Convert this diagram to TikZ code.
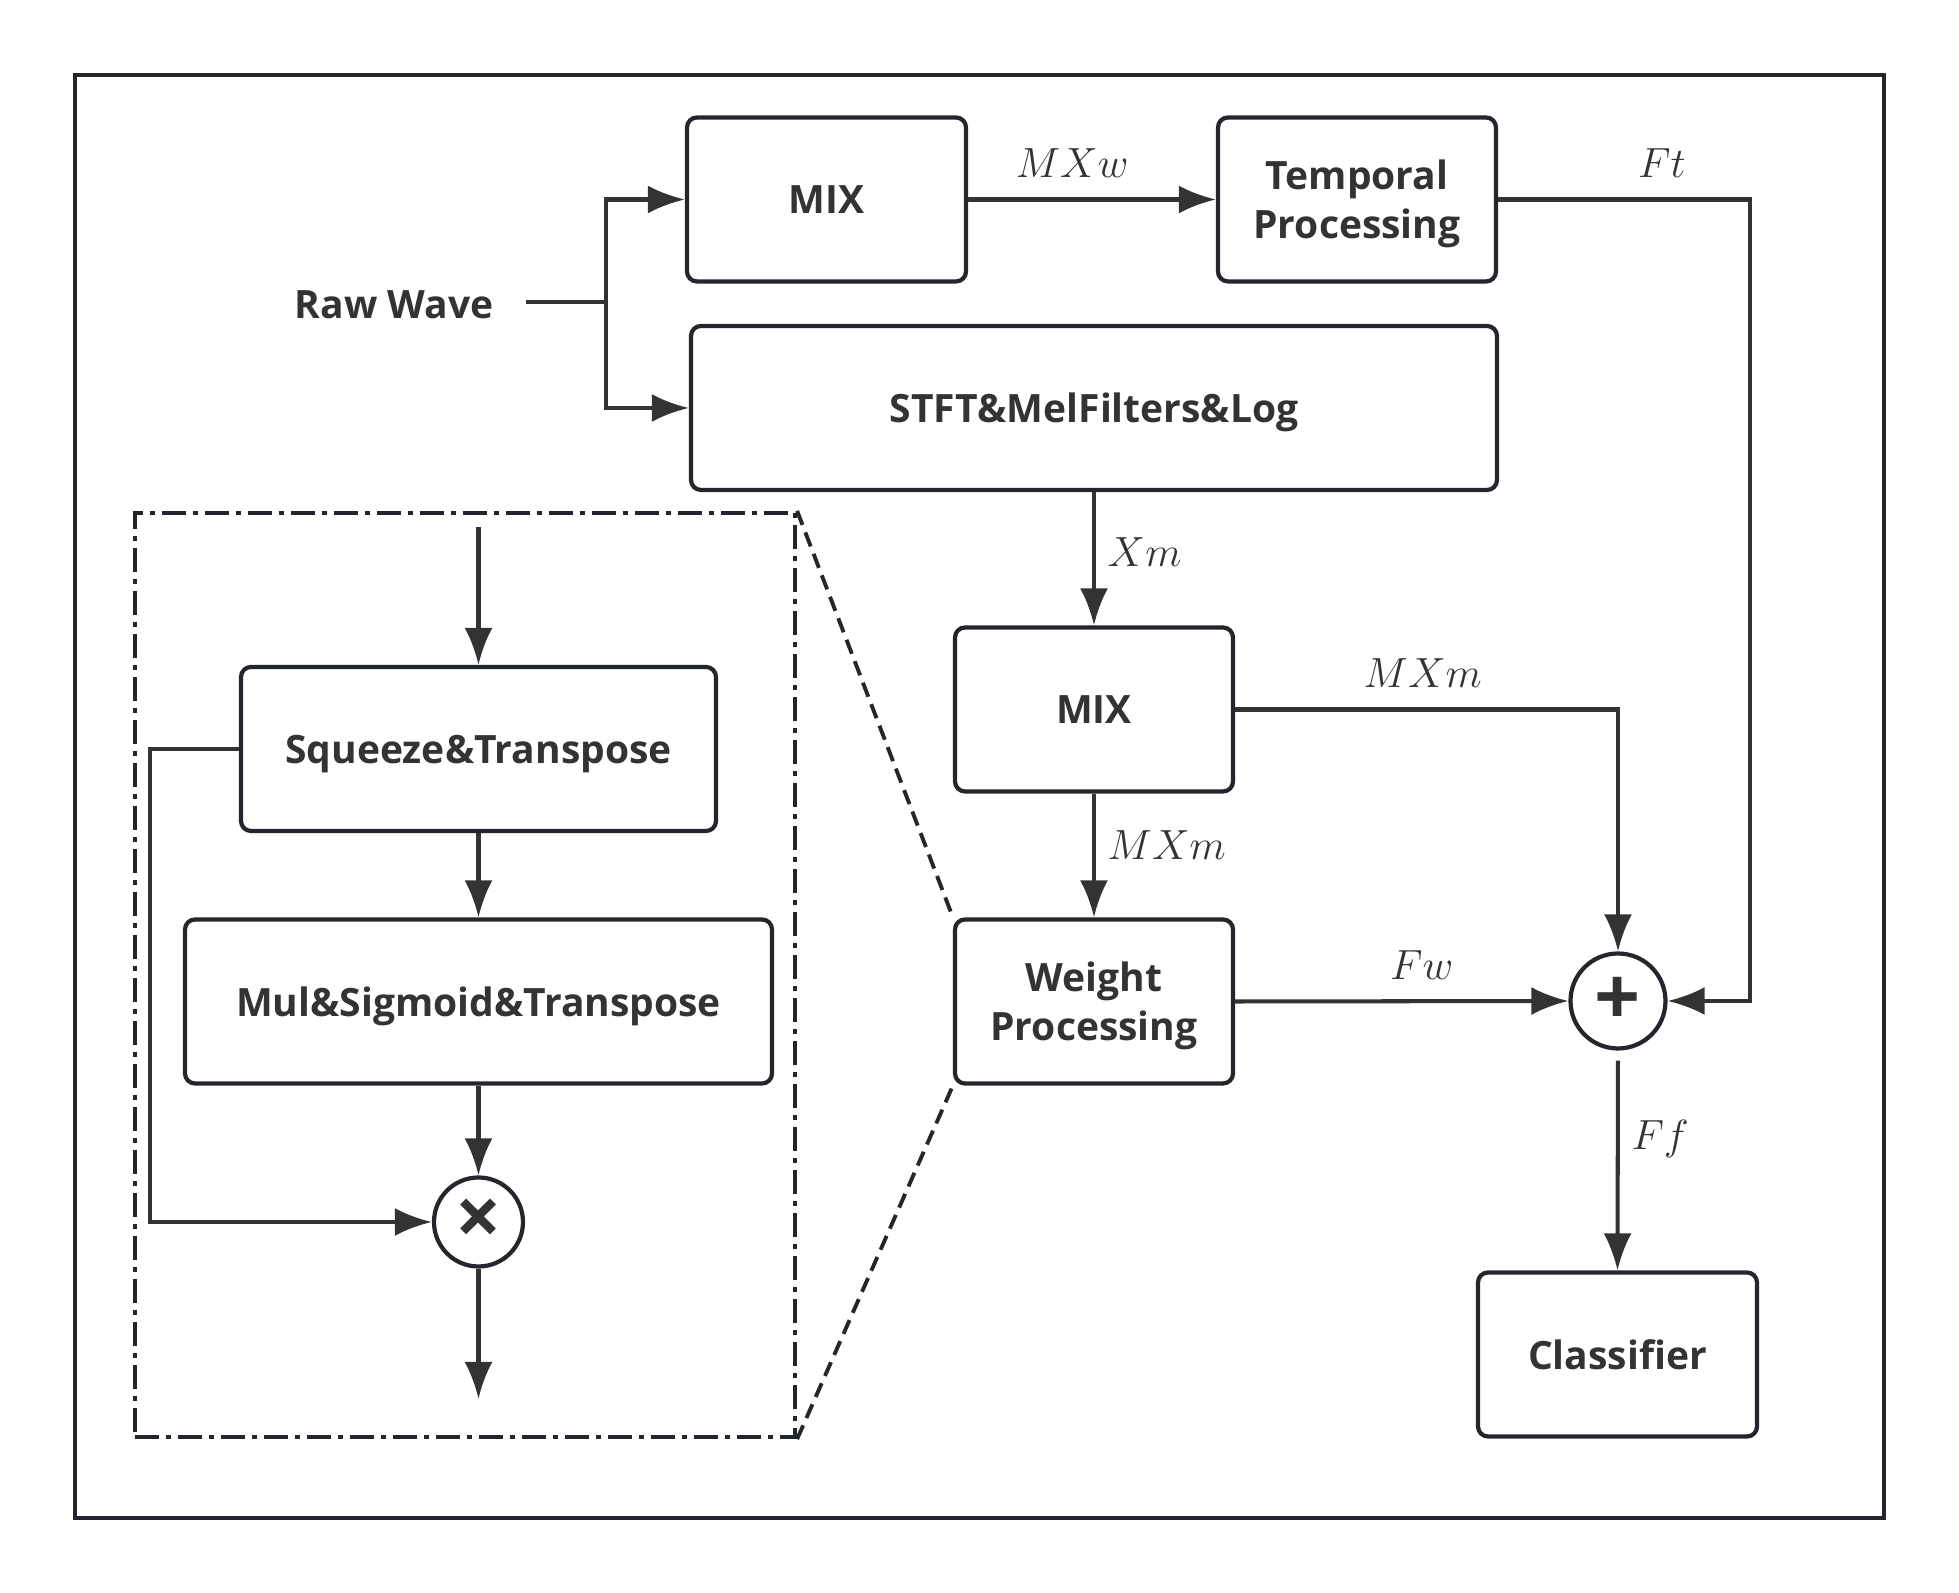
\documentclass[tikz,border=0pt]{standalone}
\usepackage{fontspec}
\setmainfont{Open Sans}
\usetikzlibrary{arrows.meta}
\definecolor{ink}{HTML}{333333}
\definecolor{edge}{HTML}{23272D}
\begin{document}
\begin{tikzpicture}[
	box/.style={draw=edge, line width=1.2pt, rounded corners=1mm, minimum width=#1, minimum height=1.64cm, inner sep=0pt, text depth=0pt, align=center, text=ink, font=\fontsize{11.1}{13.9}\selectfont\bfseries},
	sum/.style={draw=edge, line width=1.2pt, circle, minimum size=#1, inner sep=0pt, text=ink, font=\fontsize{23}{23}\selectfont\bfseries},
	txt/.style={text=ink, font=\fontsize{11.1}{13.9}\selectfont\bfseries},
	lbl/.style={text=ink, font=\fontsize{13}{13}\selectfont},
	line/.style={draw=ink, line width=1.15pt},
	arr/.style={line, -{Latex[length=3.7mm,width=2.8mm]}},
	zoomframe/.style={draw=edge, line width=1.2pt, inner sep=0pt, dash pattern=on 2.4mm off 0.7mm on 0.5mm off 0.7mm},
	link/.style={draw=edge, line width=1.1pt, dash pattern=on 1.5mm off 0.8mm}
	]
	\useasboundingbox (0,0) rectangle (19.59,15.93);
	\draw[edge, line width=1.1pt] (0.75,0.75) rectangle (18.84,15.18);
	\node[txt] (raw) at (3.94,12.88) {Raw Wave};
	\node[box=2.79cm] (mixw) at (8.265,13.935) {MIX};
	\node[box=2.78cm] (temporal) at (13.57,13.935) {Temporal\\Processing};
	\node[box=8.06cm] (stft) at (10.94,11.85) {STFT\&MelFilters\&Log};
	\node[box=2.78cm] (mixm) at (10.94,8.835) {MIX};
	\node[box=2.78cm] (weight) at (10.94,5.915) {Weight\\Processing};
	\node[sum=0.95cm] (plus) at (16.18,5.92) {+};
	\node[box=2.79cm] (classifier) at (16.175,2.385) {Classifier};
	\coordinate (split) at (6.06,12.91);
	\coordinate (ftc) at (17.50,13.935);
	\draw[line, shorten <=2mm] (raw.east |- split) -- (split);
	\draw[arr] (split) |- (mixw.west);
	\draw[arr] (split) |- (stft.west);
	\draw[arr] (mixw.east) -- (temporal.west) node[lbl, above, yshift=0.8mm, pos=0.42] {$MXw$};
	\draw[arr] (temporal.east) -- node[lbl, above, yshift=0.8mm, pos=0.65] {$Ft$} (ftc) |- (plus.east);
	\draw[arr] (stft.south) -- (mixm.north) node[lbl, right, pos=0.45] {$Xm$};
	\draw[arr] (mixm.east) -| (plus.north) node[lbl, above, yshift=0.8mm, pos=0.245] {$MXm$};
	\draw[arr] (mixm.south) -- (weight.north) node[lbl, right, pos=0.42] {$MXm$};
	\draw[arr] (weight.east) -- (plus.west) node[lbl, above, yshift=0.8mm, pos=0.56] {$Fw$};
	\draw[arr, shorten <=1mm] (plus.south) -- (classifier.north) node[lbl, right, pos=0.40] {$Ff$};
	\node[zoomframe, minimum width=6.6cm, minimum height=9.24cm] (zoom) at (4.65,6.18) {};
	\draw[link] (zoom.north east) -- (weight.north west);
	\draw[link] (zoom.south east) -- (weight.south west);
	\node[box=4.75cm] (squeeze) at (4.785,8.44) {Squeeze\&Transpose};
	\node[box=5.87cm] (mul) at (4.785,5.915) {Mul\&Sigmoid\&Transpose};
	\node[sum=0.89cm] (times) at (4.785,3.71) {×};
	\coordinate (zin) at (4.785,10.66);
	\coordinate (zout) at (4.785,1.94);
	\draw[arr] (zin) -- (squeeze.north);
	\draw[arr] (squeeze.south) -- (mul.north);
	\draw[arr] (mul.south) -- (times.north);
	\draw[arr] (times.south) -- (zout);
	\draw[arr] (squeeze.west) -- ++(-0.89,0) |- (times.west);
\end{tikzpicture}
\end{document}
